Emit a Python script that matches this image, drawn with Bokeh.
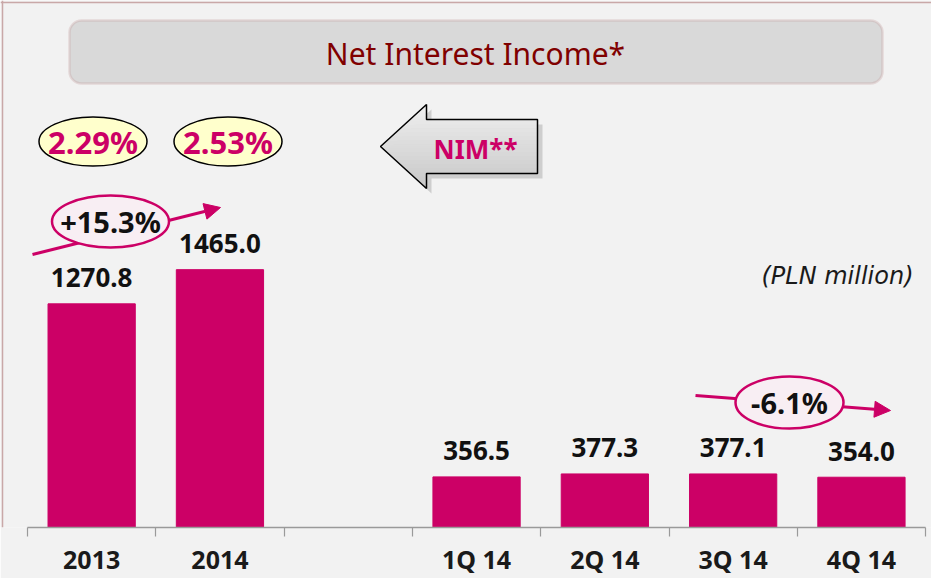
from bokeh.plotting import figure
from bokeh.models import (Range1d, LinearAxis, FixedTicker, BoxAnnotation, Arrow,
                          NormalHead, Span)
from bokeh.core.properties import value
from bokeh.embed import file_html
from bokeh.resources import INLINE

# ---------------- data ----------------
years = ["2013", "2014"]
year_values = [1270.8, 1465.0]
quarters = ["1Q 14", "2Q 14", "3Q 14", "4Q 14"]
quarter_values = [356.5, 377.3, 377.1, 354.0]
nim_labels = ["2.29%", "2.53%"]
year_growth = "+15.3%"
quarter_growth = "-6.1%"
title_text = "Net Interest Income*"
unit_note = "(PLN million)"
nim_text = "NIM**"

# ---------------- styling / layout ----------------
MAGENTA = "#cc0066"
FONT = "Noto Sans"
W, H = 931, 578
SLOT0, SLOT = 35.0, 128.3      # page px of first slot boundary, slot width
BASE = 535.0                   # page px of baseline
K1, K2 = 0.176, 0.142          # px per PLN million (annual / quarterly)
PAGE_X0, PAGE_Y0 = 8.0, 8.0


def X(px):
    return (px - SLOT0) / SLOT


def Y(py):
    return (BASE - py) / K1


year_x = [i + 0.5 for i in range(len(years))]
quarter_x = [i + 3.5 for i in range(len(quarters))]

p = figure(width=W, height=H, output_backend="svg", toolbar_location=None,
           x_range=Range1d(X(PAGE_X0), X(PAGE_X0 + W)),
           y_range=Range1d(0, (BASE - PAGE_Y0) / K1),
           x_axis_location=None, y_axis_location=None,
           min_border_left=0, min_border_right=0, min_border_top=0,
           min_border_bottom=H - int(BASE - PAGE_Y0),
           background_fill_color="#f2f2f2", border_fill_color="#f2f2f2",
           outline_line_color=None)
p.extra_y_ranges = {"q": Range1d(0, (BASE - PAGE_Y0) / K2)}
p.xgrid.visible = False
p.ygrid.visible = False

# panel border (top / left)
p.add_layout(Span(location=X(10), dimension="height", line_color="#c9a8a8", line_width=1.5))
p.add_layout(Span(location=Y(10), dimension="width", line_color="#c9a8a8", line_width=1.5))

# title box
p.add_layout(BoxAnnotation(left=X(77), right=X(890), top=Y(28), bottom=Y(91),
                           border_radius=12, fill_color="#d9d9d9", fill_alpha=1,
                           line_color="#c49c9c", line_width=2.5, level="underlay"))
p.text(x=[X(483)], y=[Y(61)], text=[title_text], text_align="center",
       text_baseline="middle", text_font=value(FONT), text_font_size="30px",
       text_color="#800000")

# bars
p.vbar(x=year_x, top=year_values, width=0.68, color=MAGENTA)
p.vbar(x=quarter_x, top=quarter_values, width=0.68, color=MAGENTA, y_range_name="q")

lab_kw = dict(text_align="center", text_baseline="middle", text_font=value(FONT),
              text_font_style="bold", text_font_size="26px", text_color="#111111",
              y_offset=-26)
p.text(x=year_x, y=year_values, text=[f"{v:.1f}" for v in year_values], **lab_kw)
p.text(x=quarter_x, y=quarter_values, text=[f"{v:.1f}" for v in quarter_values],
       y_range_name="q", **lab_kw)

# NIM ellipses
p.ellipse(x=[X(100.5), X(235.5)], y=[Y(149)] * 2, width=108, height=49,
          width_units="screen", height_units="screen",
          fill_color="#ffffcc", line_color="black", line_width=1.5)
p.text(x=[X(100.5), X(235.5)], y=[Y(149)] * 2, text=nim_labels, text_align="center",
       text_baseline="middle", text_font=value(FONT), text_font_style="bold",
       text_font_size="31px", text_color=MAGENTA)

# NIM block arrow (shadow, gradient strips, outline)
TIP_X, TIP_Y, HEAD_X, HEAD_T, HEAD_B, SH_T, SH_B, SH_R = 388, 154, 434, 112, 196, 127, 181, 545
arrow_px = [(TIP_X, TIP_Y), (HEAD_X, HEAD_T), (HEAD_X, SH_T), (SH_R, SH_T),
            (SH_R, SH_B), (HEAD_X, SH_B), (HEAD_X, HEAD_B)]
p.patch([X(a + 5) for a, b in arrow_px], [Y(b + 5) for a, b in arrow_px],
        fill_color="#8c8c8c", fill_alpha=0.35, line_color=None)


def left_edge(y):
    return TIP_X + (HEAD_X - TIP_X) * abs(y - TIP_Y) / (TIP_Y - HEAD_T)


def right_edge(ya, yb):
    return SH_R if (ya >= SH_T and yb <= SH_B) else HEAD_X


cuts = sorted(set(list(range(HEAD_T, HEAD_B + 1, 4)) + [HEAD_B, SH_T, SH_B, TIP_Y]))
c_top, c_bot = (240, 240, 240), (200, 200, 200)
for ya, yb in zip(cuts[:-1], cuts[1:]):
    t = ((ya + yb) / 2 - HEAD_T) / (HEAD_B - HEAD_T)
    col = "#%02x%02x%02x" % tuple(int(a + (b - a) * t) for a, b in zip(c_top, c_bot))
    r = right_edge(ya, yb)
    pts = [(left_edge(ya), ya), (r, ya), (r, yb), (left_edge(yb), yb)]
    p.patch([X(a) for a, b in pts], [Y(b) for a, b in pts],
            fill_color=col, line_color=col, line_width=0.6)
p.patch([X(a) for a, b in arrow_px], [Y(b) for a, b in arrow_px],
        fill_color=None, line_color="black", line_width=1.5)
p.text(x=[X(483)], y=[Y(156)], text=[nim_text], text_align="center",
       text_baseline="middle", text_font=value(FONT), text_font_style="bold",
       text_font_size="26px", text_color=MAGENTA)

# growth arrows + ellipses
for (x0, y0, x1, y1) in [(40, 262, 228, 215), (703, 403, 898, 418)]:
    p.add_layout(Arrow(x_start=X(x0), y_start=Y(y0), x_end=X(x1), y_end=Y(y1),
                       line_color=MAGENTA, line_width=3, level="underlay",
                       end=NormalHead(size=16, fill_color=MAGENTA, line_color=MAGENTA)))
gx = [X(118), X(797)]
gy = [Y(229), Y(410)]
p.ellipse(x=gx, y=gy, width=[117, 108], height=[52, 52],
          width_units="screen", height_units="screen",
          fill_color="#f8eef3", line_color=MAGENTA, line_width=2.5)
p.text(x=gx, y=gy, text=[year_growth, quarter_growth], text_align="center",
       text_baseline="middle", text_font=value(FONT), text_font_style="bold",
       text_font_size="29px", text_color="#111111")

# unit note
p.text(x=[X(845)], y=[Y(283)], text=[unit_note], text_align="center",
       text_baseline="middle", text_font=value("DejaVu Sans"), text_font_style="italic",
       text_font_size="24px", text_color="#1a1a1a")

# x axis
labels = years + quarters
centers = year_x + quarter_x
ax = LinearAxis(ticker=FixedTicker(ticks=centers, minor_ticks=list(range(8))),
                bounds=(0, 7),
                major_label_overrides={c: l for c, l in zip(centers, labels)},
                axis_line_color="#9a9a9a", axis_line_width=1.5,
                major_tick_out=0, major_tick_in=0,
                minor_tick_out=9, minor_tick_in=0,
                minor_tick_line_color="#9a9a9a", minor_tick_line_width=1.2,
                major_label_standoff=5,
                major_label_text_font=FONT, major_label_text_font_style="bold",
                major_label_text_font_size="25px", major_label_text_color="#1a1a1a")
p.add_layout(ax, "below")

open("out.html", "w").write(file_html(p, INLINE))
